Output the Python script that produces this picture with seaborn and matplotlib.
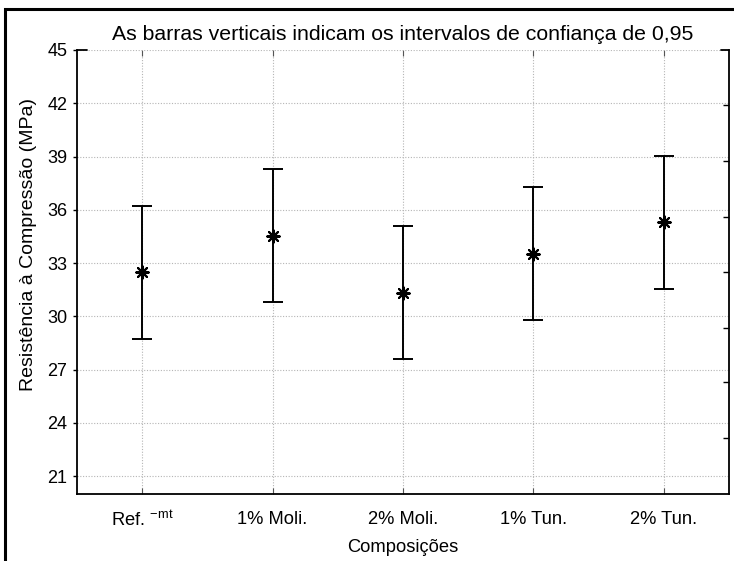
import matplotlib
matplotlib.use("Agg")
import matplotlib.pyplot as plt
from matplotlib.patches import Rectangle
import seaborn as sns
import pandas as pd

categories = ["Ref. $^{\\mathregular{-mt}}$", "1% Moli.", "2% Moli.", "1% Tun.", "2% Tun."]
means = [32.48, 34.55, 31.33, 33.53, 35.29]
lower = [28.74, 30.80, 27.58, 29.78, 31.53]
upper = [36.22, 38.30, 35.10, 37.30, 39.05]
yticks = [21, 24, 27, 30, 33, 36, 39, 42, 45]
right_ticks = [23.13, 26.28, 29.37, 32.52, 35.61, 38.76, 41.91]

title = "As barras verticais indicam os intervalos de confiança de 0,95"
xlabel = "Composições"
ylabel = "Resistência à Compressão (MPa)"

sns.set_theme(style="white")
plt.rcParams["font.family"] = ["Liberation Sans", "DejaVu Sans"]
plt.rcParams["mathtext.fontset"] = "custom"
plt.rcParams["mathtext.rm"] = "Liberation Sans"

df = pd.DataFrame({"cat": categories, "mean": means, "lo": lower, "hi": upper})

fig = plt.figure(figsize=(7.34, 5.61), dpi=100)
fig.patch.set_facecolor("white")
ax = fig.add_axes([77 / 734, 1 - 494 / 561, (729 - 77) / 734, (494 - 50) / 561])

# frame around figure (extends beyond bottom/right)
fig.patches.append(Rectangle((5 / 734, -0.05), 1.2, (561 - 9) / 561 + 0.05,
                             transform=fig.transFigure, fill=False,
                             edgecolor="black", linewidth=2.2, zorder=0))

yerr = [df["mean"] - df["lo"], df["hi"] - df["mean"]]
ax.errorbar(df["cat"], df["mean"], yerr=yerr, fmt="none", ecolor="black",
            elinewidth=1.4, capsize=7, capthick=1.4, zorder=3)
sns.scatterplot(data=df, x="cat", y="mean", ax=ax, marker=(8, 2, 0), s=80,
                color="black", linewidth=1.5, zorder=4, legend=False)

ax.set_xlim(-0.5, 4.5)
ax.set_ylim(20, 45)
ax.set_yticks(yticks)
ax.set_yticklabels([str(v) for v in yticks])

ax.grid(True, color="#b5b5b5", linestyle=(0, (1, 1.5)), linewidth=0.8)
ax.set_axisbelow(True)

for s in ["left", "bottom", "right"]:
    ax.spines[s].set_visible(True)
    ax.spines[s].set_color("black")
    ax.spines[s].set_linewidth(1.3)
ax.spines["top"].set_visible(False)

ax.tick_params(axis="y", direction="out", length=3, width=1.0, color="black",
               labelsize=13, pad=4, labelcolor="black", left=True)
ax.tick_params(axis="x", direction="in", length=4, width=0.8, color="#555555",
               labelsize=13.2, pad=12, labelcolor="black", bottom=True, top=True)

# top corner brackets
ax.plot([0, 0.015], [1, 1], transform=ax.transAxes, color="black", lw=1.3, clip_on=False)
ax.plot([0.988, 1], [1, 1], transform=ax.transAxes, color="black", lw=1.3, clip_on=False)

ax2 = ax.twinx()
ax2.set_ylim(ax.get_ylim())
ax2.set_yticks(right_ticks)
ax2.set_yticklabels([])
ax2.tick_params(axis="y", direction="in", length=4, width=1.0, color="black", right=True)
for s in ax2.spines.values():
    s.set_visible(False)

ax.set_title(title, fontsize=15.3, pad=7, color="black")
ax.set_xlabel(xlabel, fontsize=13.2, labelpad=6, color="black")
ax.set_ylabel(ylabel, fontsize=14, color="black")
ax.yaxis.set_label_coords(-0.062, 0.561)

fig.savefig("out.png", dpi=100, facecolor="white")
